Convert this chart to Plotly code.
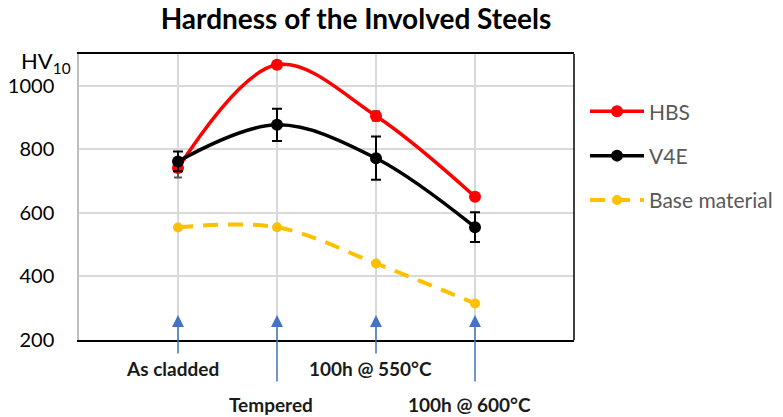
import plotly.graph_objects as go

categories = ["As cladded", "Tempered", "100h @ 550°C", "100h @ 600°C"]
x_pos = [1, 2, 3, 4]
hbs = [741, 1066, 905, 651]
hbs_err = [30, 12, 15, 8]
v4e = [762, 877, 772, 555]
v4e_err = [31, 51, 68, 47]
base = [554, 555, 441, 315]
y_ticks = [200, 400, 600, 800, 1000]

FONT = "Lato"

fig = go.Figure()
fig.add_trace(go.Scatter(
    x=x_pos, y=hbs, name="HBS", legendgroup="a", mode="lines+markers",
    line=dict(color="#FF0000", width=3.5, shape="spline", smoothing=1.0),
    marker=dict(color="#FF0000", size=12),
    error_y=dict(type="data", array=hbs_err, color="#595959", thickness=2, width=4),
    cliponaxis=False,
))
fig.add_trace(go.Scatter(
    x=x_pos, y=v4e, name="V4E", legendgroup="b", mode="lines+markers",
    line=dict(color="#000000", width=3.5, shape="spline", smoothing=1.0),
    marker=dict(color="#000000", size=12),
    error_y=dict(type="data", array=v4e_err, color="#000000", thickness=2, width=5),
    cliponaxis=False,
))
fig.add_trace(go.Scatter(
    x=x_pos, y=base, name="Base material", legendgroup="c", mode="lines+markers",
    line=dict(color="#FFC000", width=4, shape="spline", smoothing=1.0, dash="15px,10px"),
    marker=dict(color="#FFC000", size=10),
    cliponaxis=False,
))

annotations = []
# arrows and category labels
for i, (xv, lab) in enumerate(zip(x_pos, categories)):
    low = i % 2 == 1
    annotations.append(dict(
        x=xv, y=279, xref="x", yref="y", text="", showarrow=True,
        ax=0, ay=68 if low else 40, arrowhead=2, arrowsize=1.6, arrowwidth=1.5,
        arrowcolor="#4472C4",
    ))
    annotations.append(dict(
        x=xv - 0.06, y=-0.227 if low else -0.098, xref="x", yref="paper",
        text="<b>%s</b>" % lab, showarrow=False, xanchor="center", yanchor="middle",
        font=dict(family=FONT, size=19, color="#1a1a1a"),
    ))
annotations.append(dict(
    x=(46 - 79) / 495, y=(340 - 62) / 286, xref="paper", yref="paper",
    text="HV<sub>10</sub>", showarrow=False, xanchor="center", yanchor="middle",
    font=dict(family=FONT, size=22, color="#000000"),
))

fig.update_layout(
    width=783, height=417,
    margin=dict(l=79, r=209, t=54, b=77, autoexpand=False),
    paper_bgcolor="white", plot_bgcolor="white",
    font=dict(family=FONT, color="#000000"),
    title=dict(text="<b>Hardness of the Involved Steels</b>", x=356 / 783, xanchor="center",
               y=1 - 19 / 417, yanchor="middle", xref="container", yref="container",
               font=dict(family=FONT, size=28, color="#000000")),
    xaxis=dict(range=[0, 5], tickvals=x_pos, showticklabels=False, showgrid=True,
               gridcolor="#D9D9D9", gridwidth=1.5, showline=True, linecolor="#000000",
               linewidth=1.5, mirror=True, zeroline=False, ticks=""),
    yaxis=dict(range=[200, 1100], tickvals=y_ticks, showgrid=True, gridcolor="#D9D9D9",
               gridwidth=1.5, showline=True, linecolor="#BFBFBF", linewidth=1.5,
               zeroline=False, ticks="outside", ticklen=19, tickcolor="rgba(0,0,0,0)",
               tickfont=dict(family=FONT, size=20, color="#000000")),
    legend=dict(x=(585 - 79) / 495, y=0.87, xanchor="left", yanchor="top", tracegroupgap=14,
                itemwidth=54,
                font=dict(family=FONT, size=21, color="#595959"), bgcolor="rgba(0,0,0,0)"),
    showlegend=True,
    annotations=annotations,
    shapes=[dict(type="line", xref="paper", yref="paper", x0=1, x1=1, y0=0, y1=1,
                 line=dict(color="#000000", width=1.5))],
)

fig.write_html("out.html")
